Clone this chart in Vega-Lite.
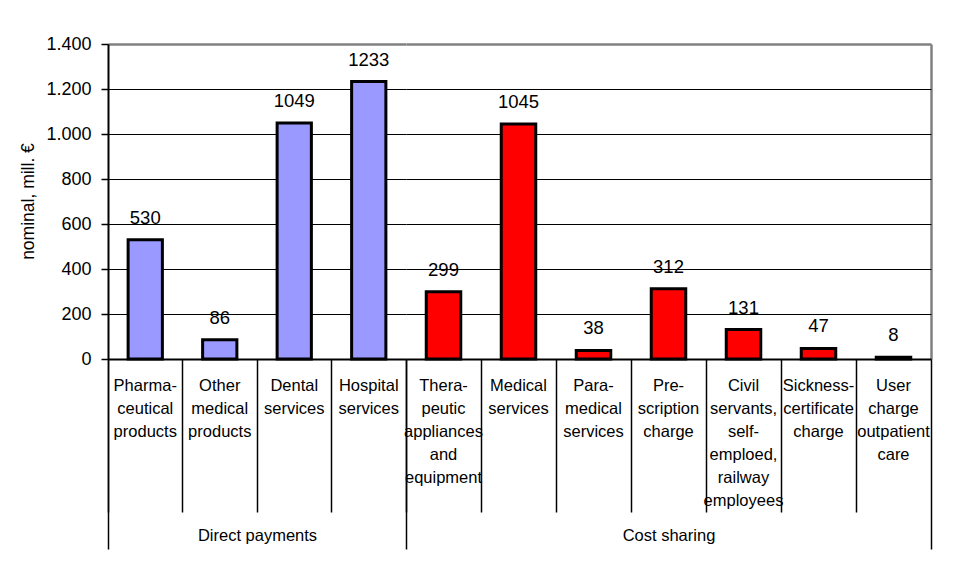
{
  "$schema": "https://vega.github.io/schema/vega-lite/v6.json",
  "padding": {"left": 19, "top": 35, "right": 5, "bottom": 5},
  "bounds": "flush",
  "background": "white",
  "config": {
    "font": "Liberation Sans",
    "view": {"stroke": null},
    "axis": {"labelColor": "black", "titleColor": "black", "titleFontWeight": "normal"}
  },
  "datasets": {
    "spending": [
      {"group": "Direct payments", "item": "Pharma-\nceutical\nproducts", "value": 530},
      {"group": "Direct payments", "item": "Other\nmedical\nproducts", "value": 86},
      {"group": "Direct payments", "item": "Dental\nservices", "value": 1049},
      {"group": "Direct payments", "item": "Hospital\nservices", "value": 1233},
      {"group": "Cost sharing", "item": "Thera-\npeutic\nappliances\nand\nequipment", "value": 299},
      {"group": "Cost sharing", "item": "Medical\nservices", "value": 1045},
      {"group": "Cost sharing", "item": "Para-\nmedical\nservices", "value": 38},
      {"group": "Cost sharing", "item": "Pre-\nscription\ncharge", "value": 312},
      {"group": "Cost sharing", "item": "Civil\nservants,\nself-\nemploed,\nrailway\nemployees", "value": 131},
      {"group": "Cost sharing", "item": "Sickness-\ncertificate\ncharge", "value": 47},
      {"group": "Cost sharing", "item": "User\ncharge\noutpatient\ncare", "value": 8}
    ]
  },
  "data": {"name": "spending"},
  "spacing": 0,
  "hconcat": [
    {
      "width": 298,
      "height": 315,
      "transform": [{"filter": "datum.group === 'Direct payments'"}],
      "encoding": {
        "y": {
          "field": "value", "type": "quantitative",
          "scale": {"domain": [0, 1400], "nice": false},
          "axis": {
            "title": "nominal, mill. €", "titleFontSize": 17.5, "titleAngle": -90,
            "titleX": -80, "titleY": 157, "titleBaseline": "middle", "titleAlign": "center",
            "values": [0, 200, 400, 600, 800, 1000, 1200, 1400],
            "labelExpr": "replace(format(datum.value, ','), ',', '.')",
            "labelFontSize": 18, "labelPadding": 10,
            "tickSize": 7, "tickColor": "black", "tickWidth": 1.5,
            "domainColor": "black", "domainWidth": 2,
            "grid": true,
            "gridColor": {"condition": {"test": "datum.value === 1400", "value": "#808080"}, "value": "black"},
            "gridWidth": {"condition": {"test": "datum.value === 1400", "value": 2.5}, "value": 1}
          }
        }
      },
      "layer": [
        {
          "mark": {"type": "bar", "stroke": "black", "strokeWidth": 3, "width": {"band": 0.46}},
          "encoding": {
            "x": {
              "field": "item", "type": "nominal", "sort": null,
              "scale": {"paddingInner": 0, "paddingOuter": 0},
              "axis": {
                "orient": "bottom", "title": null, "labelAngle": 0,
                "labelExpr": "split(datum.label, '\\n')",
                "labelFontSize": 16.5, "labelLineHeight": 23, "labelBaseline": "top",
                "labelPadding": -135, "labelLimit": 300, "labelOverlap": false,
                "bandPosition": 0, "tickSize": 153, "tickColor": "black", "tickWidth": 1.5,
                "domainColor": "black", "domainWidth": 2
              }
            },
            "color": {
              "field": "group", "type": "nominal", "legend": null,
              "scale": {"domain": ["Direct payments", "Cost sharing"], "range": ["#9999FF", "#FF0000"]}
            }
          }
        },
        {
          "mark": {"type": "text", "fontSize": 18.5, "dy": -16, "baseline": "alphabetic", "color": "black"},
          "encoding": {
            "x": {"field": "item", "type": "nominal", "sort": null,
                  "scale": {"paddingInner": 0, "paddingOuter": 0}, "axis": null},
            "text": {"field": "value", "type": "quantitative"}
          }
        },
        {
          "mark": {"type": "bar", "opacity": 0},
          "encoding": {
            "x": {
              "field": "item", "type": "nominal", "sort": null,
              "scale": {"paddingInner": 0, "paddingOuter": 0},
              "axis": {
                "orient": "bottom", "values": ["Pharma-\nceutical\nproducts"],
                "bandPosition": 0, "labels": false, "domain": false,
                "tickSize": 190, "tickColor": "black", "tickWidth": 1.5,
                "title": "Direct payments", "titleFontSize": 16.5,
                "titleY": 176, "titleBaseline": "middle"
              }
            }
          }
        }
      ],
      "resolve": {"axis": {"x": "independent"}}
    },
    {
      "width": 525,
      "height": 315,
      "transform": [{"filter": "datum.group === 'Cost sharing'"}],
      "encoding": {
        "y": {
          "field": "value", "type": "quantitative",
          "scale": {"domain": [0, 1400], "nice": false},
          "axis": {
            "title": null, "labels": false, "ticks": false, "domain": false,
            "values": [0, 200, 400, 600, 800, 1000, 1200, 1400],
            "grid": true,
            "gridColor": {"condition": {"test": "datum.value === 1400", "value": "#808080"}, "value": "black"},
            "gridWidth": {"condition": {"test": "datum.value === 1400", "value": 2.5}, "value": 1}
          }
        }
      },
      "layer": [
        {
          "mark": {"type": "bar", "stroke": "black", "strokeWidth": 3, "width": {"band": 0.46}},
          "encoding": {
            "x": {
              "field": "item", "type": "nominal", "sort": null,
              "scale": {"paddingInner": 0, "paddingOuter": 0},
              "axis": {
                "orient": "bottom", "title": null, "labelAngle": 0,
                "labelExpr": "split(datum.label, '\\n')",
                "labelFontSize": 16.5, "labelLineHeight": 23, "labelBaseline": "top",
                "labelPadding": -135, "labelLimit": 300, "labelOverlap": false,
                "bandPosition": 0, "tickSize": 153, "tickColor": "black", "tickWidth": 1.5,
                "domainColor": "black", "domainWidth": 2
              }
            },
            "color": {
              "field": "group", "type": "nominal", "legend": null,
              "scale": {"domain": ["Direct payments", "Cost sharing"], "range": ["#9999FF", "#FF0000"]}
            }
          }
        },
        {
          "mark": {"type": "text", "fontSize": 18.5, "dy": -16, "baseline": "alphabetic", "color": "black"},
          "encoding": {
            "x": {"field": "item", "type": "nominal", "sort": null,
                  "scale": {"paddingInner": 0, "paddingOuter": 0}, "axis": null},
            "text": {"field": "value", "type": "quantitative"}
          }
        },
        {
          "mark": {"type": "bar", "opacity": 0},
          "encoding": {
            "x": {
              "field": "item", "type": "nominal", "sort": null,
              "scale": {"paddingInner": 0, "paddingOuter": 0},
              "axis": {
                "orient": "bottom", "values": ["Thera-\npeutic\nappliances\nand\nequipment"],
                "bandPosition": 0, "labels": false, "domain": false,
                "tickSize": 190, "tickColor": "black", "tickWidth": 1.5,
                "title": "Cost sharing", "titleFontSize": 16.5,
                "titleY": 176, "titleBaseline": "middle"
              }
            }
          }
        },
        {
          "mark": {"type": "bar", "opacity": 0},
          "encoding": {
            "x": {
              "field": "item", "type": "nominal", "sort": null,
              "scale": {"paddingInner": 0, "paddingOuter": 0},
              "axis": {
                "orient": "bottom", "values": ["User\ncharge\noutpatient\ncare"],
                "bandPosition": 1, "labels": false, "domain": false, "title": null,
                "tickSize": 190, "tickColor": "black", "tickWidth": 1.5,
                "grid": true, "gridColor": "#808080", "gridWidth": 2.5
              }
            }
          }
        }
      ],
      "resolve": {"axis": {"x": "independent"}}
    }
  ]
}
